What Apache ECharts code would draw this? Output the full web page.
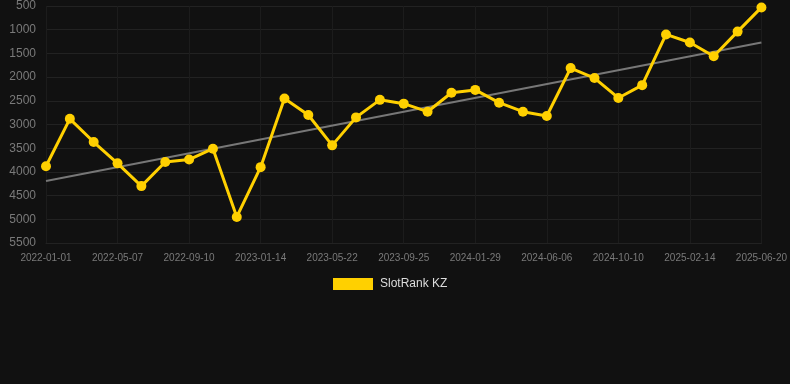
<!DOCTYPE html>
<html>
<head>
<meta charset="utf-8">
<script src="https://cdn.jsdelivr.net/npm/echarts@6/dist/echarts.min.js"></script>
<style>
html,body{margin:0;padding:0;background:#111111;}
#chart{width:790px;height:384px;}
</style>
</head>
<body>
<div id="chart"></div>
<script>
const categories = [
  '2022-01-01','2022-02-12','2022-03-26','2022-05-07','2022-06-18','2022-07-30',
  '2022-09-10','2022-10-22','2022-12-03','2023-01-14','2023-02-25','2023-04-08',
  '2023-05-22','2023-07-03','2023-08-14','2023-09-25','2023-11-06','2023-12-18',
  '2024-01-29','2024-03-11','2024-04-22','2024-06-06','2024-07-18','2024-08-29',
  '2024-10-10','2024-11-21','2025-01-02','2025-02-14','2025-03-28','2025-05-09',
  '2025-06-20'
];
const rankValues = [
  3880, 2880, 3370, 3820, 4300, 3790,
  3740, 3510, 4950, 3900, 2450, 2800,
  3440, 2850, 2480, 2560, 2730, 2330,
  2270, 2540, 2730, 2820, 1810, 2020,
  2440, 2170, 1100, 1270, 1560, 1040,
  530
];
const trendStart = 4190;
const trendEnd = 1270;
const yTicks = { min: 500, max: 5500, interval: 500 };
const seriesName = 'SlotRank KZ';

const trendValues = categories.map((c, i) =>
  i === 0 ? trendStart : (i === categories.length - 1 ? trendEnd : null));

const chart = echarts.init(document.getElementById('chart'), null, {renderer: 'canvas'});
chart.setOption({
  backgroundColor: '#111111',
  animation: false,
  grid: { left: 46, right: 28, top: 6, bottom: 141, containLabel: false },
  legend: {
    data: [{ name: seriesName, icon: 'rect' }],
    top: 278,
    left: 333,
    itemWidth: 40,
    itemHeight: 12,
    itemGap: 10,
    padding: 0,
    textStyle: { color: '#dddddd', fontSize: 12, padding: [0, 0, 0, 2], fontFamily: 'Liberation Sans, Arial, sans-serif' }
  },
  xAxis: {
    type: 'category',
    data: categories,
    boundaryGap: false,
    axisLine: { show: true, lineStyle: { color: '#222222' } },
    axisTick: { show: false },
    axisLabel: { interval: 2, color: '#7a7a7a', fontSize: 10, margin: 10, fontFamily: 'Liberation Sans, Arial, sans-serif' },
    splitLine: { show: true, interval: 2, lineStyle: { color: '#1c1c1c' } }
  },
  yAxis: {
    type: 'value',
    inverse: true,
    min: yTicks.min,
    max: yTicks.max,
    interval: yTicks.interval,
    axisLine: { show: false },
    axisTick: { show: false },
    axisLabel: { color: '#7a7a7a', fontSize: 12, margin: 10, formatter: v => String(v), fontFamily: 'Liberation Sans, Arial, sans-serif' },
    splitLine: { show: true, lineStyle: { color: '#222222' } }
  },
  series: [
    {
      name: 'trend',
      type: 'line',
      data: trendValues,
      connectNulls: true,
      symbol: 'none',
      lineStyle: { color: '#777777', width: 2 },
      z: 1,
      silent: true
    },
    {
      name: seriesName,
      type: 'line',
      data: rankValues,
      symbol: 'circle',
      symbolSize: 10,
      itemStyle: { color: '#FFD000' },
      lineStyle: { color: '#FFD000', width: 3 },
      z: 2
    }
  ]
});
</script>
</body>
</html>
